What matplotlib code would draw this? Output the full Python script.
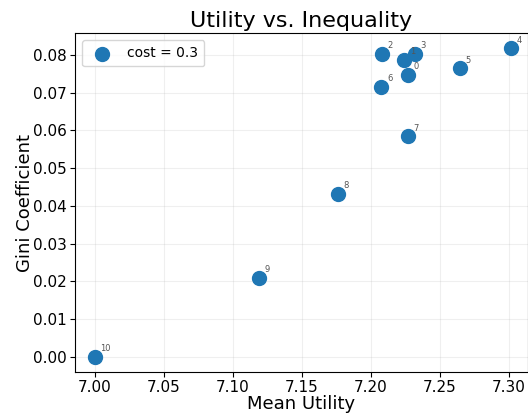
import matplotlib
matplotlib.use("Agg")
import matplotlib.pyplot as plt

mean_utility = [7.2266, 7.224, 7.208, 7.232, 7.3014, 7.2644, 7.2075, 7.227, 7.1758, 7.119, 7.0]
gini = [0.0747, 0.0787, 0.0803, 0.0803, 0.0817, 0.0765, 0.0716, 0.0584, 0.0432, 0.0209, 0.0]
labels = [str(i) for i in range(len(gini))]

fig = plt.figure(figsize=(5.28, 4.15), dpi=100)
ax = fig.add_axes([75 / 528, 43 / 415, 453 / 528, 339 / 415])
ax.scatter(mean_utility, gini, s=100, color="#1f77b4", label="cost = 0.3", zorder=3)
for x, y, t in zip(mean_utility, gini, labels):
    ax.annotate(t, (x, y), xytext=(4, 4), textcoords="offset points", fontsize=6, color="#555555", zorder=4)
ax.set_xlim(6.9855, 7.3138)
ax.set_ylim(-0.004, 0.0858)
ax.set_xticks([7.0, 7.05, 7.1, 7.15, 7.2, 7.25, 7.3])
ax.set_yticks([0.0, 0.01, 0.02, 0.03, 0.04, 0.05, 0.06, 0.07, 0.08])
ax.tick_params(labelsize=11, pad=2.5)
ax.grid(True, alpha=0.2)
ax.set_axisbelow(True)
ax.set_xlabel("Mean Utility", fontsize=13, labelpad=0)
ax.set_ylabel("Gini Coefficient", fontsize=13, labelpad=-1)
ax.set_title("Utility vs. Inequality", fontsize=16, pad=4)
ax.legend(loc="upper left", fontsize=10, borderpad=0.45)
fig.savefig("out.png", dpi=100)
